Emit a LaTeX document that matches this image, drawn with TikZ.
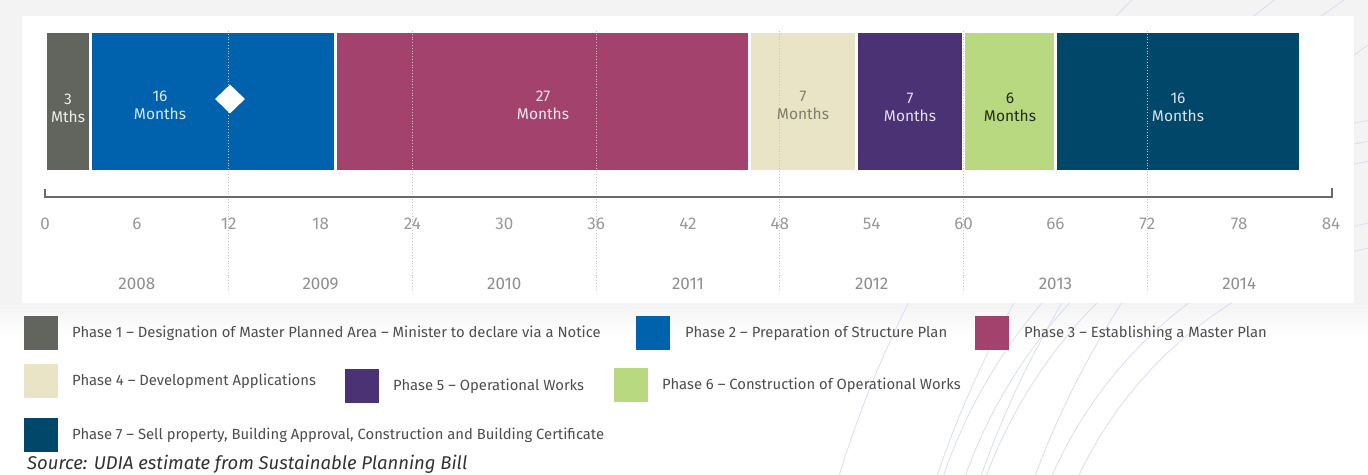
\documentclass[tikz,border=0pt]{standalone}
\usepackage{fontspec}
\setmainfont{Fira Sans}
\usetikzlibrary{shapes.geometric}

\definecolor{phA}{HTML}{62645E}
\definecolor{phB}{HTML}{0062AD}
\definecolor{phC}{HTML}{A2426D}
\definecolor{phD}{HTML}{E9E4C5}
\definecolor{phE}{HTML}{4B3274}
\definecolor{phF}{HTML}{B8D980}
\definecolor{phG}{HTML}{00476A}
\definecolor{pagegray}{HTML}{F3F3F4}
\definecolor{swirl}{HTML}{D9DDF2}
\definecolor{axisgray}{HTML}{6A6A6A}
\definecolor{ticktext}{HTML}{999999}
\definecolor{yeartext}{HTML}{8E8E8E}
\definecolor{legendtext}{HTML}{4E4E4E}
\definecolor{sourcetext}{HTML}{333333}
\definecolor{gridgray}{HTML}{C4C4C4}

\begin{document}
\begin{tikzpicture}[x=1pt,y=-1pt,
  bar/.style={draw=none, inner sep=0pt, outer sep=0pt, minimum height=137pt, anchor=north west},
  barlabel/.style={font=\fontsize{15.5}{18}\selectfont, align=center, inner sep=0pt},
  ticklabel/.style={text=ticktext, font=\fontsize{17}{17}\selectfont, inner sep=0pt},
  yearlabel/.style={text=yeartext, font=\fontsize{17}{17}\selectfont, inner sep=0pt},
  keybox/.style={minimum width=34pt, minimum height=34pt, inner sep=0pt, anchor=north west},
  keytext/.style={text=legendtext, font=\fontsize{14.8}{14.8}\selectfont, anchor=base west, inner sep=0pt},
  swirlline/.style={draw=swirl, line width=0.8pt},
  gridline/.style={draw=gridgray, dotted, line width=0.8pt},
  axisline/.style={draw=axisgray, line width=2.6pt}
]

\useasboundingbox (0,0) rectangle (1368,474);

% page background: grey behind the card, white below
\fill[white] (0,0) rectangle (1368,474);
\fill[pagegray] (0,0) rectangle (1368,303);
\shade[top color=pagegray, bottom color=white] (0,302) rectangle (1368,336);

% faint decorative swirl lines in the lower right
\begin{scope}
  \clip (0,0) rectangle (1368,474);
  \foreach \r in {1109,1015.7,974.2,923.5}
    \draw[swirlline] (1900,800) circle[radius=\r pt];
  \foreach \r in {535.6,514.9,495.2,434.4,410}
    \draw[swirlline] (1450,650) circle[radius=\r pt];
\end{scope}

% white card holding the timeline
\fill[white] (22,16) rectangle (1354,303);

% phase bars (15.31pt per month, month 0 at x=45)
\node[bar, fill=phA, minimum width={3*15.31pt-3pt}]  (p1) at ({45+0*15.31+1.5},33)  {};
\node[bar, fill=phB, minimum width={16*15.31pt-3pt}] (p2) at ({45+3*15.31+1.5},33)  {};
\node[bar, fill=phC, minimum width={27*15.31pt-3pt}] (p3) at ({45+19*15.31+1.5},33) {};
\node[bar, fill=phD, minimum width={7*15.31pt-3pt}]  (p4) at ({45+46*15.31+1.5},33) {};
\node[bar, fill=phE, minimum width={7*15.31pt-3pt}]  (p5) at ({45+53*15.31+1.5},33) {};
\node[bar, fill=phF, minimum width={6*15.31pt-3pt}]  (p6) at ({45+60*15.31+1.5},33) {};
\node[bar, fill=phG, minimum width={16*15.31pt-3pt}] (p7) at ({45+66*15.31+1.5},33) {};

% yearly dotted guides
\foreach \m in {12,24,36,48,60,72}
  \draw[gridline] ({45+\m*15.31},31) -- ({45+\m*15.31},290);

% milestone marker
\node[diamond, fill=white, minimum width=30pt, minimum height=29pt, inner sep=0pt] (ms) at (230,99) {};

% bar labels
\node[barlabel, text=white!88!phA]   (l1) at (68,108)    {3\\Mths};
\node[barlabel, text=white!85!phB]   (l2) at (160,105)   {16\\Months};
\node[barlabel, text=white!88!phC]   (l3) at (543,105)   {27\\Months};
\node[barlabel, text=black!45!phD]   (l4) at (803,105)   {7\\Months};
\node[barlabel, text=white!85!phE]   (l5) at (910,107.5) {7\\Months};
\node[barlabel, text=black!80!phF]   (l6) at (1010,107.5){6\\Months};
\node[barlabel, text=white!85!phG]   (l7) at (1178,107.5){16\\Months};

% month axis
\coordinate (axL) at (45,197);
\coordinate (axR) at (1332,197);
\coordinate (axLtop) at (45,188.5);
\coordinate (axRtop) at (1332,188);
\draw[axisline] (axLtop) -- (axL) -- (axR) -- (axRtop);

\foreach \m in {0,6,...,84}
  \node[ticklabel] (t\m) at ({45+\m*15.31},224) {\m};

\foreach \y [count=\i from 0] in {2008,2009,2010,2011,2012,2013,2014}
  \node[yearlabel] (y\y) at ({45+(6+12*\i)*15.31},284) {\y};

% legend
\node[keybox, fill=phA] (k1) at (24,316) {};
\node[keytext] (k1t) at (72,337.5) {Phase 1 – Designation of Master Planned Area – Minister to declare via a Notice};
\node[keybox, fill=phB] (k2) at (636,316) {};
\node[keytext] (k2t) at (685,337.5) {Phase 2 – Preparation of Structure Plan};
\node[keybox, fill=phC] (k3) at (975,316) {};
\node[keytext] (k3t) at (1024,337.5) {Phase 3 – Establishing a Master Plan};

\node[keybox, fill=phD] (k4) at (24,364) {};
\node[keytext] (k4t) at (72,385.5) {Phase 4 – Development Applications};
\node[keybox, fill=phE] (k5) at (345,369) {};
\node[keytext] (k5t) at (393,390.5) {Phase 5 – Operational Works};
\node[keybox, fill=phF] (k6) at (614,368) {};
\node[keytext] (k6t) at (662,389.5) {Phase 6 – Construction of Operational Works};

\node[keybox, fill=phG] (k7) at (24,418) {};
\node[keytext] (k7t) at (72,439.5) {Phase 7 – Sell property, Building Approval, Construction and Building Certificate};

\node[anchor=base west, inner sep=0pt, text=sourcetext, font=\fontsize{18.5}{18.5}\selectfont\itshape] (src) at (27,469.5) {Source: UDIA estimate from Sustainable Planning Bill};

\end{tikzpicture}
\end{document}
